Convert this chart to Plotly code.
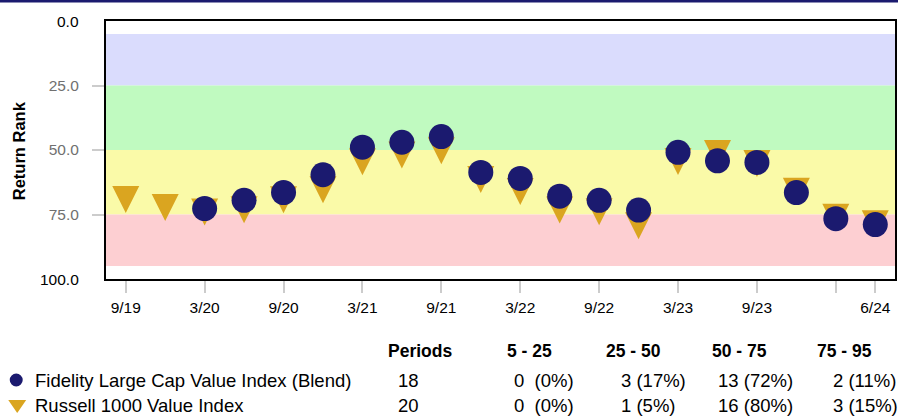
import plotly.graph_objects as go

# ---------------- data ----------------
quarters = ["9/19", "12/19", "3/20", "6/20", "9/20", "12/20", "3/21", "6/21", "9/21", "12/21",
            "3/22", "6/22", "9/22", "12/22", "3/23", "6/23", "9/23", "12/23", "3/24", "6/24"]
fund_quarters = quarters[2:]
fund_name = "Fidelity Large Cap Value Index (Blend)"
fund_rank = [72.7, 69.5, 66.5, 59.6, 48.9, 47.0, 44.8, 58.7, 61.0, 67.9,
             69.5, 73.3, 50.9, 54.2, 54.8, 66.5, 76.6, 78.9]
bench_name = "Russell 1000 Value Index"
bench_rank = [69.2, 72.3, 74.0, 73.2, 69.3, 65.4, 54.6, 51.9, 50.3, 61.4,
              66.1, 73.3, 73.9, 79.4, 54.5, 51.4, 55.2, 66.0, 76.1, 78.6]

tick_quarters = ["9/19", "3/20", "9/20", "3/21", "9/21", "3/22", "9/22", "3/23", "9/23", "3/24", "6/24"]
tick_labels = ["9/19", "3/20", "9/20", "3/21", "9/21", "3/22", "9/22", "3/23", "9/23", "", "6/24"]
y_ticks = [25, 50, 75]
y_tick_labels = ["25.0", "50.0", "75.0"]
y_end_labels = ["0.0", "100.0"]
y_end_values = [0, 100]

band_edges = [5, 25, 50, 75, 95]
band_colors = ["#dadcfd", "#c0fac0", "#fafaa8", "#fdcfd2"]

table_headers = ["Periods", "5 - 25", "25 - 50", "50 - 75", "75 - 95"]
fund_periods = "18"
bench_periods = "20"
fund_stats = ["0\u00a0 (0%)", "3 (17%)", "13 (72%)", "2 (11%)"]
bench_stats = ["0\u00a0 (0%)", "1 (5%)", "16 (80%)", "3 (15%)"]

NAVY = "#1b1a6f"
GOLD = "#daa520"
FONT = "Liberation Sans, Arial, sans-serif"

# ---------------- layout geometry (pixels) ----------------
W, H = 898, 416
ML, MR, MT, MB = 106, 1, 21, 137
PW = W - ML - MR
PH = H - MT - MB


def px(xp):
    return (xp - ML) / PW


def py(yp):
    return (H - MB - yp) / PH


fig = go.Figure()

fig.add_trace(go.Scatter(
    x=quarters, y=bench_rank, mode="markers", name=bench_name,
    marker=dict(symbol="arrow-down", size=27, standoff=13.5, color=GOLD, line=dict(width=0)),
    showlegend=False, hoverinfo="x+y+name"))
fig.add_trace(go.Scatter(
    x=fund_quarters, y=fund_rank, mode="markers", name=fund_name,
    marker=dict(symbol="circle", size=25, color=NAVY, line=dict(width=0)),
    showlegend=False, hoverinfo="x+y+name"))

shapes = []
for i, c in enumerate(band_colors):
    shapes.append(dict(type="rect", xref="paper", yref="y", x0=0, x1=1,
                       y0=band_edges[i], y1=band_edges[i + 1],
                       fillcolor=c, line=dict(width=0), layer="below"))
# top navy rule
shapes.append(dict(type="rect", xref="paper", yref="paper", x0=px(-2), x1=px(W + 2),
                   y0=py(2.5), y1=py(-2), fillcolor=NAVY, line=dict(width=0)))
# legend markers
cx, cy, r = 16, 380, 6.5
shapes.append(dict(type="circle", xref="paper", yref="paper",
                   x0=px(cx - r), x1=px(cx + r), y0=py(cy + r), y1=py(cy - r),
                   fillcolor=NAVY, line=dict(width=0)))
tx, ty = 17, 406
shapes.append(dict(type="path", xref="paper", yref="paper",
                   path=f"M {px(tx-9)} {py(ty-6)} L {px(tx+9)} {py(ty-6)} L {px(tx)} {py(ty+7)} Z",
                   fillcolor=GOLD, line=dict(width=0)))

ann = []
# y axis title
ann.append(dict(text="<b>Return Rank</b>", x=px(19), y=py(151), xref="paper", yref="paper",
                xanchor="center", yanchor="middle",
                textangle=-90, showarrow=False, font=dict(size=16.5, color="#000", family=FONT)))
# end labels 0.0 / 100.0
for v, t in zip(y_end_values, y_end_labels):
    ann.append(dict(text=t, x=px(81), y=v, xref="paper", yref="y", xanchor="right",
                    yanchor="middle", showarrow=False, font=dict(size=15.5, color="#000", family=FONT)))

# table
hdr_left = [387, 506, 605, 712, 817]
for t, xl in zip(table_headers, hdr_left):
    ann.append(dict(text=f"<b>{t}</b>", x=px(xl), y=py(351), xref="paper", yref="paper",
                    xanchor="left", yanchor="middle", showarrow=False,
                    font=dict(size=17.5, color="#000", family=FONT)))
row_y = [380, 405]
names = [fund_name, bench_name]
periods = [fund_periods, bench_periods]
stats = [fund_stats, bench_stats]
col_left = [513, 620, 718, 833]
for k in range(2):
    ann.append(dict(text=names[k], x=px(33), y=py(row_y[k]), xref="paper", yref="paper",
                    xanchor="left", yanchor="middle", showarrow=False,
                    font=dict(size=18.5, color="#000", family=FONT)))
    ann.append(dict(text=periods[k], x=px(397), y=py(row_y[k]), xref="paper", yref="paper",
                    xanchor="left", yanchor="middle", showarrow=False,
                    font=dict(size=18.5, color="#000", family=FONT)))
    for s, xl in zip(stats[k], col_left):
        ann.append(dict(text=s, x=px(xl), y=py(row_y[k]), xref="paper", yref="paper",
                        xanchor="left", yanchor="middle", showarrow=False,
                        font=dict(size=18.5, color="#000", family=FONT)))

fig.update_layout(
    width=W, height=H,
    margin=dict(l=ML, r=MR, t=MT, b=MB, pad=0),
    paper_bgcolor="white", plot_bgcolor="white",
    font=dict(family=FONT, color="#000"),
    shapes=shapes, annotations=ann,
    xaxis=dict(type="category", categoryorder="array", categoryarray=quarters,
               range=[-0.5, len(quarters) - 0.5],
               tickmode="array", tickvals=tick_quarters, ticktext=tick_labels,
               ticks="outside", ticklen=12, tickwidth=1.5, tickcolor="#cccccc",
               ticklabelstandoff=1,
               tickfont=dict(size=15.5, color="#000", family=FONT),
               showgrid=False, zeroline=False,
               showline=True, linecolor="#000", linewidth=2, mirror=True),
    yaxis=dict(range=[100, 0], tickmode="array", tickvals=y_ticks, ticktext=y_tick_labels,
               ticks="outside", ticklen=12, tickwidth=1.5, tickcolor="#cccccc",
               ticklabelstandoff=10,
               tickfont=dict(size=15.5, color="#707070", family=FONT),
               showgrid=False, zeroline=False,
               showline=True, linecolor="#000", linewidth=2, mirror=True),
)

fig.write_html("out.html", config={"displayModeBar": False},
               post_script="document.body.style.margin='0';document.body.style.overflow='hidden';")
